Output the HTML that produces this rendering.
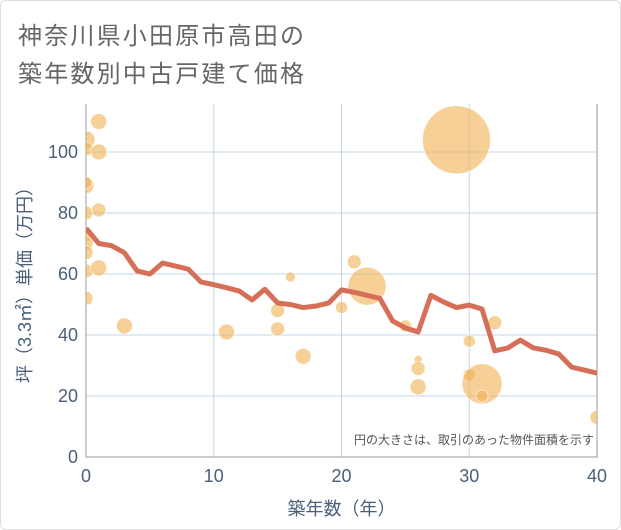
<!DOCTYPE html>
<html><head><meta charset="utf-8"><style>
body{margin:0;background:#fff;}
#wrap{position:relative;width:619px;height:528px;border:1px solid #ddd;border-radius:6px;background:#fff;overflow:hidden;}
.t{position:absolute;left:17px;font:24px "Liberation Sans","Noto Sans CJK JP",sans-serif;color:#666;letter-spacing:2.2px;}
svg text{font-family:"Liberation Sans","Noto Sans CJK JP",sans-serif;}
</style></head><body>
<div id="wrap">
<div class="t" style="top:15px">神奈川県小田原市高田の</div>
<div class="t" style="top:53px">築年数別中古戸建て価格</div>
<svg id="chart" width="621" height="530" style="position:absolute;left:0;top:0"></svg>
</div>
<script>
const xTicks=[0,10,20,30,40];
const yTicks=[0,20,40,60,80,100];
const lineYears=[0,1,2,3,4,5,6,7,8,9,10,11,12,13,14,15,16,17,18,19,20,21,22,23,24,25,26,27,28,29,30,31,32,33,34,35,36,37,38,39,40];
const lineValues=[75,70,69.3,67,61,60,63.6,62.6,61.6,57.4,56.5,55.5,54.4,51.5,55,50.5,50,49,49.5,50.5,54.8,54,53,52,44.6,42.3,41,53,50.8,49,49.8,48.5,34.8,35.7,38.3,35.8,35,33.8,29.5,28.5,27.5];
const bubbleYears=[0,0,0,0,0,0,0,0,0,0,1,1,1,1,3,11,15,15,16,17,20,21,22,25,26,26,26,30,30,31,31,32,29,40];
const bubbleValues=[104,101,89,90,80,73,70,67,61,52,110,100,81,62,43,41,48,42,59,33,49,64,56,43,32,29,23,38,27,24,20,44,104,13];
const bubbleSizes=[9,7,8,6,7,7,7,7,7,7,8,8,7,8,8,8,7,7,5,8,6,7,19,6,4,7,8,6,6,20,6,7,34,7];
const NS="http://www.w3.org/2000/svg";
const svg=document.getElementById('chart');
const X0=85,X1=596,Y0=456,YT=103;
const xs=v=>X0+(X1-X0)*v/40;
const ys=v=>Y0-(Y0-151)*v/100;
function mk(t,a){const e=document.createElementNS(NS,t);for(const k in a)e.setAttribute(k,a[k]);return e;}
const clip=mk('clipPath',{id:'pc'});clip.appendChild(mk('rect',{x:X0,y:YT,width:X1-X0,height:Y0-YT}));svg.appendChild(clip);
xTicks.forEach(v=>{
 const l=mk('line',{x1:xs(v),x2:xs(v),y1:YT,y2:Y0,stroke:'#c5d5e8','stroke-width':1});
 
 
 svg.appendChild(l);
 const t=mk('text',{x:xs(v),y:Y0+25,'text-anchor':'middle','font-size':18,fill:'#4a5f7a'});t.textContent=v;
 
 
 svg.appendChild(t);
});
yTicks.forEach(v=>{
 const l=mk('line',{x1:X0,x2:X1,y1:ys(v),y2:ys(v),stroke:'#c5d5e8','stroke-width':1});
 
 
 svg.appendChild(l);
 const t=mk('text',{x:X0-8,y:ys(v)+6,'text-anchor':'end','font-size':18,fill:'#4a5f7a'});t.textContent=v;
 
 
 svg.appendChild(t);
});
const frame=mk('path',{d:`M${X0},${YT}V${Y0}H${X1}V${YT}`,fill:'none',stroke:'#999','stroke-width':1});


svg.appendChild(frame);
const g=mk('g',{'clip-path':'url(#pc)'});svg.appendChild(g);
bubbleYears.forEach((yr,i)=>{
 const c=mk('circle',{cx:xs(yr),cy:ys(bubbleValues[i]),r:bubbleSizes[i],fill:'rgba(240,176,80,0.6)',stroke:'rgba(255,255,255,0.6)','stroke-width':1});
 
 
 g.appendChild(c);
});
const p=mk('polyline',{points:lineYears.map((y,i)=>xs(y)+','+ys(lineValues[i])).join(' '),fill:'none',stroke:'#d66f58','stroke-width':5,'stroke-linejoin':'round'});


g.appendChild(p);
const note=mk('text',{x:593,y:443,'text-anchor':'end','font-size':12,fill:'#555'});note.textContent='円の大きさは、取引のあった物件面積を示す';


svg.appendChild(note);
const xt=mk('text',{x:(X0+X1)/2,y:514,'text-anchor':'middle','font-size':18,fill:'#4a5f7a'});xt.textContent='築年数（年）';


svg.appendChild(xt);
const yt=mk('text',{x:0,y:0,'text-anchor':'middle','font-size':18,fill:'#4a5f7a',transform:`translate(30,${(YT+Y0)/2}) rotate(-90)`});yt.textContent='坪（3.3㎡）単価（万円）';


svg.appendChild(yt);
</script>
</body></html>
